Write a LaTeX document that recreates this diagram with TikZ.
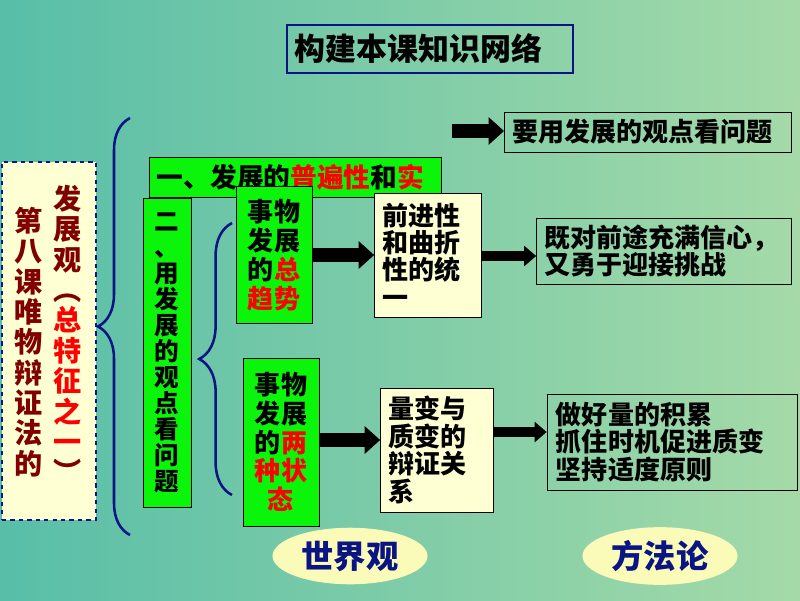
\documentclass[tikz,border=0pt]{standalone}
\usepackage{fontspec}
\newfontfamily\cjk{Noto Sans CJK SC}
\usetikzlibrary{arrows.meta,shapes.geometric,decorations.pathreplacing}
\definecolor{bgleft}{RGB}{88,190,168}
\definecolor{bgright}{RGB}{165,218,168}
\definecolor{bracenavy}{RGB}{10,20,130}
\definecolor{darkred}{RGB}{128,0,0}
\definecolor{boxgreen}{RGB}{10,245,10}
\definecolor{paleyellow}{RGB}{255,255,212}
\definecolor{ovalyellow}{RGB}{250,250,185}

\begin{document}
\begin{tikzpicture}[x=0.025cm,y=-0.025cm,
	bodytext/.style={font=\cjk\bfseries\fontsize{18.5}{19.5}\selectfont},
	greenbox/.style={draw=black, fill=boxgreen, inner sep=0pt, align=center, font=\cjk\bfseries\fontsize{18.5}{20.5}\selectfont},
	yellowbox/.style={bodytext, draw=black, fill=paleyellow, inner xsep=0.2cm, inner ysep=0pt, align=left},
	plainbox/.style={bodytext, draw=black, inner xsep=0.2cm, inner ysep=0pt, align=left},
	bigarrow/.style={line width=10pt, -{Triangle[length=11pt,width=19pt]}},
	smallarrow/.style={line width=7pt, -{Triangle[length=8.5pt,width=14pt]}},
	oval/.style={ellipse, fill=ovalyellow, minimum width=3.875cm, minimum height=1.15cm, text=bracenavy, font=\cjk\bfseries\fontsize{23}{24}\selectfont},
	bracepath/.style={draw=bracenavy, line width=1.8pt, decorate}]

	\useasboundingbox (0,0) rectangle (800,600);
	\fill[left color=bgleft, right color=bgright] (0,0) rectangle (800,600);

	\node[draw=bracenavy, line width=2pt, minimum width=7.15cm, minimum height=1.2cm, inner xsep=0.2cm, text width=6.75cm, align=left, font=\cjk\bfseries\fontsize{22}{23}\selectfont] (title) at (430,49) {构建本课知识网络};

	\node[plainbox, minimum height=1cm, text width=6.78cm] (goal) at (648,132) {要用发展的观点看问题};
	\coordinate (goaltail) at (452,131);
	\draw[bigarrow] (goaltail) -- (goal.west |- goaltail);

	\node[draw=bracenavy, dashed, line width=2pt, fill=paleyellow, minimum width=2.35cm, minimum height=8.95cm] (lessonbox) at (49,341) {};
	\node[text=darkred, align=center, font=\cjk\bfseries\fontsize{20}{21.6}\selectfont] (lesson) at (29,342) {第\\八\\课\\唯\\物\\辩\\证\\法\\的};
	\node[text=darkred, align=center, font=\cjk\bfseries\fontsize{20}{21.6}\selectfont] (devview) at (68,334) {发\\展\\观\\︵\\\textcolor{red}{总}\\\textcolor{red}{特}\\\textcolor{red}{征}\\\textcolor{red}{之}\\\textcolor{red}{一}\\︶};

	\draw[bracepath, decoration={brace, amplitude=0.8cm}] (130,535) -- (130,118);
	\draw[bracepath, decoration={brace, amplitude=0.82cm}] (232,495) -- (232,223);

	\node[greenbox, minimum width=7.3cm, minimum height=1cm, inner xsep=0.2cm, text width=6.9cm, align=left, font=\cjk\bfseries\fontsize{19}{20}\selectfont] (universal) at (295,177) {一、发展的\textcolor{red}{普遍性}和\textcolor{red}{实}};

	\node[greenbox, minimum width=1.2cm, minimum height=7.725cm, font=\cjk\bfseries\fontsize{17.5}{18.5}\selectfont] (method) at (167,353) {二\\、\\用\\发\\展\\的\\观\\点\\看\\问\\题};
	\node[greenbox, minimum width=1.9cm, minimum height=3.425cm] (trend) at (274,255) {事物\\发展\\的\textcolor{red}{总}\\\textcolor{red}{趋势}};
	\node[greenbox, minimum width=1.9cm, minimum height=4.2cm] (state) at (281,442) {事物\\发展\\的\textcolor{red}{两}\\\textcolor{red}{种状}\\\textcolor{red}{态}};

	\node[yellowbox, minimum height=3.1cm, text width=2.275cm] (progress) at (428,255) {前进性\\和曲折\\性的统\\一};
	\node[yellowbox, minimum height=3.1cm, text width=2.425cm] (dialectic) at (437,450) {量变与\\质变的\\辩证关\\系};

	\node[plainbox, minimum height=1.65cm, text width=5.975cm] (confidence) at (664,251) {既对前途充满信心，\\又勇于迎接挑战};
	\node[plainbox, minimum height=2.4cm, text width=5.8cm, inner xsep=0.225cm] (practice) at (672,442) {做好量的积累\\抓住时机促进质变\\坚持适度原则};

	\draw[bigarrow] (trend.east) -- (progress.west |- trend.east);
	\draw[bigarrow] (state.east |- 0,440) -- (dialectic.west |- 0,440);
	\draw[smallarrow] (progress.east |- 0,256) -- (confidence.west |- 0,256);
	\draw[smallarrow] (dialectic.east |- 0,432) -- (practice.west |- 0,432);

	\node[oval] (worldview) at (350,556) {世界观};
	\node[oval] (methodology) at (660,556) {方法论};

\end{tikzpicture}
\end{document}
